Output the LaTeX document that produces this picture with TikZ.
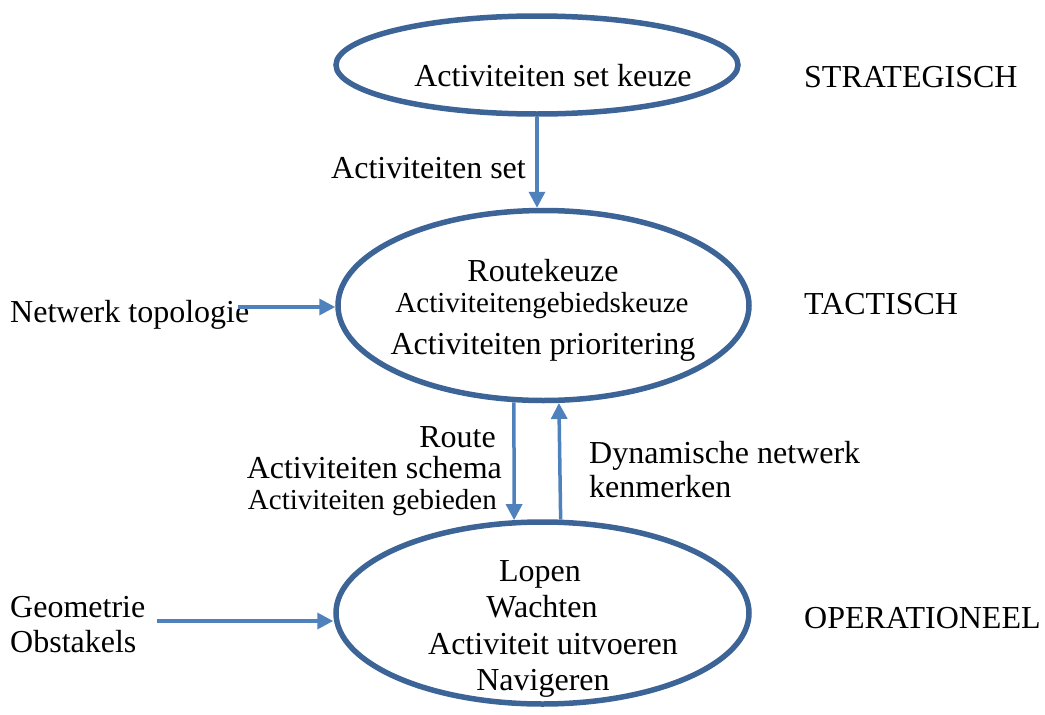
\documentclass[tikz,border=0pt]{standalone}
\usepackage{fontspec}
\setmainfont{Liberation Serif}
\usetikzlibrary{shapes.geometric,arrows.meta}
\definecolor{ellblue}{HTML}{3D6497}
\definecolor{arrblue}{HTML}{4F81BD}
\tikzset{
  ell/.style={draw=ellblue, line width=5.5pt, ellipse, inner sep=0pt},
  conn/.style={draw=arrblue, line width=3.5pt, -{Triangle[length=16pt,width=16pt]}},
  txt/.style={anchor=base, inner sep=0pt, font=\fontsize{32}{38}\selectfont},
  stxt/.style={anchor=base, inner sep=0pt, font=\fontsize{29}{34}\selectfont},
}
\begin{document}
\begin{tikzpicture}[x=1pt,y=-1pt]
\useasboundingbox (0,0) rectangle (1045,715);
% ellipses
\node[ell, minimum width=402pt, minimum height=98pt] (e1) at (537,65) {};
\node[ell, minimum width=411pt, minimum height=190pt] (e2) at (543.5,305.5) {};
\node[ell, minimum width=413pt, minimum height=182pt] (e3) at (542.5,613) {};
% texts in ellipses
\node[txt] (t1) at (553,86) {Activiteiten set keuze};
\node[txt] (t2a) at (543,281) {Routekeuze};
\node[stxt] (t2b) at (542,312) {Activiteitengebiedskeuze};
\node[txt] (t2c) at (543,354) {Activiteiten prioritering};
\node[txt] (t3a) at (540,581) {Lopen};
\node[txt] (t3b) at (542,617) {Wachten};
\node[txt] (t3c) at (553,654) {Activiteit uitvoeren};
\node[txt] (t3d) at (543,690) {Navigeren};
% level labels
\node[txt, anchor=base west] (s) at (804,87) {STRATEGISCH};
\node[txt, anchor=base west] (t) at (804,314) {TACTISCH};
\node[txt, anchor=base west] (o) at (804,628) {OPERATIONEEL};
% side labels
\node[txt, anchor=base east] (as) at (526,178) {Activiteiten set};
\node[txt, anchor=base west] (nt) at (10,322) {Netwerk topologie};
\node[txt, anchor=base west] (geo) at (10,617) {Geometrie};
\node[txt, anchor=base west] (obs) at (10,652) {Obstakels};
\node[txt, anchor=base east] (r1) at (496,447) {Route};
\node[txt, anchor=base east] (r2) at (502,478) {Activiteiten schema};
\node[stxt, anchor=base east] (r3) at (497,509) {Activiteiten gebieden};
\node[txt, anchor=base west] (d1) at (589,463) {Dynamische netwerk};
\node[txt, anchor=base west] (d2) at (589,497) {kenmerken};
% connectors
\draw[conn] (e1.south) -- (e1.south |- e2.north);
\coordinate (ntend) at (238,307);
\draw[conn] (ntend) -- (ntend -| e2.west);
\coordinate (geoend) at (157,621);
\draw[conn] (geoend) -- (geoend -| e3.west);
\draw[conn] (e2.253.4) -- (e3.107.3);
\draw[conn] (e3.79.7) -- (e2.279.8);
\end{tikzpicture}
\end{document}
